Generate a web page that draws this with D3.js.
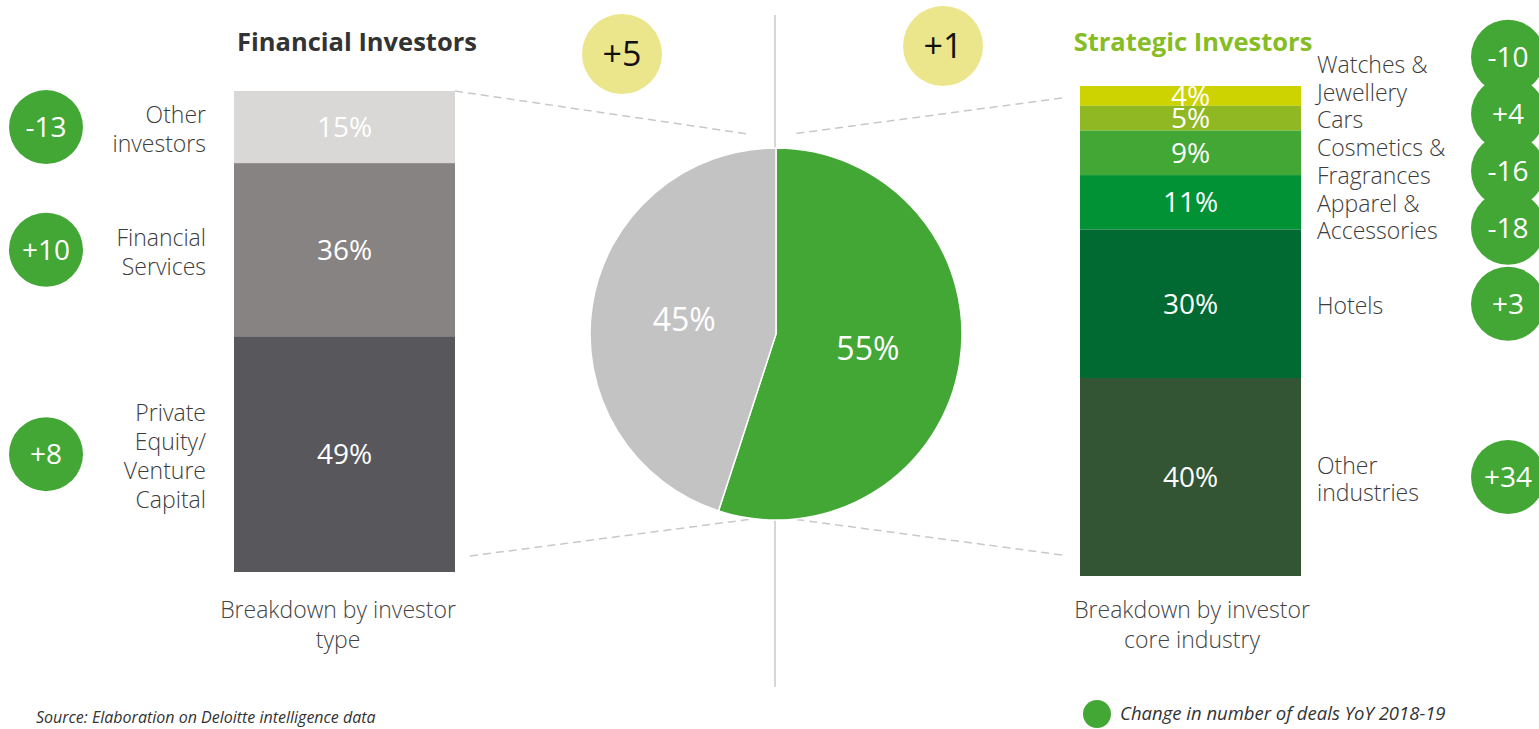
<!DOCTYPE html>
<html>
<head>
<meta charset="utf-8">
<script src="https://cdn.jsdelivr.net/npm/d3@7"></script>
<style>
  body { margin: 0; background: #fff; }
  svg text { font-family: "Open Sans", "Noto Sans", sans-serif; }
</style>
</head>
<body>
<svg id="chart" width="1539" height="729"></svg>
<script>
"use strict";

// Financial investors: breakdown by investor type
var finLabels = [["Other", "investors"], ["Financial", "Services"], ["Private", "Equity/", "Venture", "Capital"]];
var finShares = [15, 36, 49];
var finChanges = ["-13", "+10", "+8"];
var finColors = ["#d9d8d6", "#878382", "#58575c"];

// Strategic investors: breakdown by core industry
var stratLabels = [["Watches &", "Jewellery"], ["Cars"], ["Cosmetics &", "Fragrances"], ["Apparel &", "Accessories"], ["Hotels"], ["Other", "industries"]];
var stratShares = [4, 5, 9, 11, 30, 40];
var stratChanges = ["-10", "+4", "-16", "-18", "+3", "+34"];
var stratColors = ["#cdd300", "#8fb823", "#43a735", "#009235", "#016a32", "#335533"];

// Overall split
var pieNames = ["Strategic", "Financial"];
var pieShares = [55, 45];
var pieChanges = ["+1", "+5"];
var pieColors = ["#43a735", "#c4c3c4"];

var green = "#43a735";
var svg = d3.select("#chart");

// spread label positions so neighbours don't overlap (keeps the group mean)
function spread(centers, gaps) {
  var p = centers.slice();
  for (var k = 0; k < 300; k++) {
    for (var i = 1; i < p.length; i++) {
      var need = gaps(i - 1, i);
      var ov = p[i - 1] + need - p[i];
      if (ov > 0) { p[i - 1] -= ov / 2; p[i] += ov / 2; }
    }
  }
  return p;
}

function stackBar(shares, colors, x0, width, y0, y1) {
  var total = d3.sum(shares);
  var y = d3.scaleLinear().domain([0, total]).range([y0, y1]);
  var cum = 0;
  var segs = shares.map(function(v, i) {
    var s = { v: v, a: cum, b: cum + v, color: colors[i] };
    cum += v;
    return s;
  });
  var g = svg.append("g");
  g.selectAll("rect").data(segs).enter().append("rect")
    .attr("x", x0).attr("width", width)
    .attr("y", function(d) { return y(d.a); })
    .attr("height", function(d) { return y(d.b) - y(d.a); })
    .attr("fill", function(d) { return d.color; });
  g.selectAll("text").data(segs).enter().append("text")
    .attr("x", x0 + width / 2)
    .attr("y", function(d) { return (y(d.a) + y(d.b)) / 2; })
    .attr("dy", "0.36em")
    .attr("text-anchor", "middle")
    .attr("fill", "#fff")
    .attr("font-size", "28px")
    .text(function(d) { return d.v + "%"; });
  return segs.map(function(d) { return (y(d.a) + y(d.b)) / 2; });
}

function labelBlock(lines, centers, x, anchor, lh) {
  var pos = spread(centers, function(a, b) { return (lines[a].length + lines[b].length) * lh / 2; });
  lines.forEach(function(ls, i) {
    var t = svg.append("text")
      .attr("x", x).attr("text-anchor", anchor)
      .attr("fill", "#3c3c3c").attr("font-size", "23px").attr("font-weight", 300);
    ls.forEach(function(l, j) {
      t.append("tspan").attr("x", x)
        .attr("y", pos[i] + (j - (ls.length - 1) / 2) * lh)
        .attr("dy", "0.45em")
        .text(l);
    });
  });
}

function changeCircles(values, centers, cx, r, minGap) {
  var pos = spread(centers, function() { return minGap; });
  var g = svg.append("g");
  values.forEach(function(v, i) {
    g.append("circle").attr("cx", cx).attr("cy", pos[i]).attr("r", r).attr("fill", green);
    g.append("text").attr("x", cx).attr("y", pos[i]).attr("dy", "0.36em")
      .attr("text-anchor", "middle").attr("fill", "#fff").attr("font-size", "28px").text(v);
  });
}

// divider
svg.append("line").attr("x1", 775).attr("x2", 775).attr("y1", 15).attr("y2", 687)
  .attr("stroke", "#c8c8c8").attr("stroke-width", 1.5);

// dashed connectors
var dashes = [[455, 91, 748, 134], [470, 556, 752, 519], [1062, 98, 792, 134], [1062, 555, 793, 519]];
svg.selectAll("line.dash").data(dashes).enter().append("line").attr("class", "dash")
  .attr("x1", function(d) { return d[0]; }).attr("y1", function(d) { return d[1]; })
  .attr("x2", function(d) { return d[2]; }).attr("y2", function(d) { return d[3]; })
  .attr("stroke", "#c8c8c8").attr("stroke-width", 1.5).attr("stroke-dasharray", "8,5");

// bars
var finCenters = stackBar(finShares, finColors, 234, 221, 91, 572);
var stratCenters = stackBar(stratShares, stratColors, 1080, 221, 86, 576);

labelBlock(finLabels, finCenters, 206, "end", 29);
labelBlock(stratLabels, stratCenters, 1317, "start", 27.7);
changeCircles(finChanges, finCenters, 46, 37, 80);
changeCircles(stratChanges, stratCenters, 1508, 37, 57);

// pie
var cx = 776, cy = 334, R = 186;
var pie = d3.pie().sort(null).value(function(d) { return d; });
var arcs = pie(pieShares);
var arc = d3.arc().innerRadius(0).outerRadius(R);
var pg = svg.append("g").attr("transform", "translate(" + cx + "," + cy + ")");
pg.selectAll("path").data(arcs).enter().append("path")
  .attr("d", arc)
  .attr("fill", function(d, i) { return pieColors[i]; })
  .attr("stroke", "#fff").attr("stroke-width", 1.5);
var labelArc = d3.arc().innerRadius(R * 0.5).outerRadius(R * 0.5);
pg.selectAll("text").data(arcs).enter().append("text")
  .attr("transform", function(d) { return "translate(" + labelArc.centroid(d) + ")"; })
  .attr("dy", "0.36em").attr("text-anchor", "middle")
  .attr("fill", "#fff").attr("font-size", "32px")
  .text(function(d) { return d.data + "%"; });

// yellow totals
var yellowPos = { Financial: [622, 54], Strategic: [943, 46] };
pieNames.forEach(function(n, i) {
  var p = yellowPos[n];
  svg.append("circle").attr("cx", p[0]).attr("cy", p[1]).attr("r", 40).attr("fill", "#ebe68c");
  svg.append("text").attr("x", p[0]).attr("y", p[1]).attr("dy", "0.36em")
    .attr("text-anchor", "middle").attr("fill", "#111").attr("font-size", "34px").text(pieChanges[i]);
});

// titles
svg.append("text").attr("x", 357).attr("y", 51).attr("text-anchor", "middle")
  .attr("font-size", "25.5px").attr("font-weight", 700).attr("fill", "#333").text("Financial Investors");
svg.append("text").attr("x", 1193).attr("y", 51).attr("text-anchor", "middle")
  .attr("font-size", "25.5px").attr("font-weight", 700).attr("fill", "#86bc25").text("Strategic Investors");

// subtitles
function subtitle(x, lines) {
  lines.forEach(function(l, i) {
    svg.append("text").attr("x", x).attr("y", 618 + i * 30).attr("text-anchor", "middle")
      .attr("font-size", "23px").attr("font-weight", 300).attr("fill", "#444").text(l);
  });
}
subtitle(338, ["Breakdown by investor", "type"]);
subtitle(1192, ["Breakdown by investor", "core industry"]);

// source + legend
svg.append("text").attr("x", 36).attr("y", 723).attr("font-size", "16px").attr("font-style", "italic")
  .attr("fill", "#333").text("Source: Elaboration on Deloitte intelligence data");
svg.append("circle").attr("cx", 1097).attr("cy", 714).attr("r", 14).attr("fill", green);
svg.append("text").attr("x", 1120).attr("y", 720).attr("font-size", "18.5px").attr("font-style", "italic")
  .attr("fill", "#333").text("Change in number of deals YoY 2018-19");
</script>
</body>
</html>
